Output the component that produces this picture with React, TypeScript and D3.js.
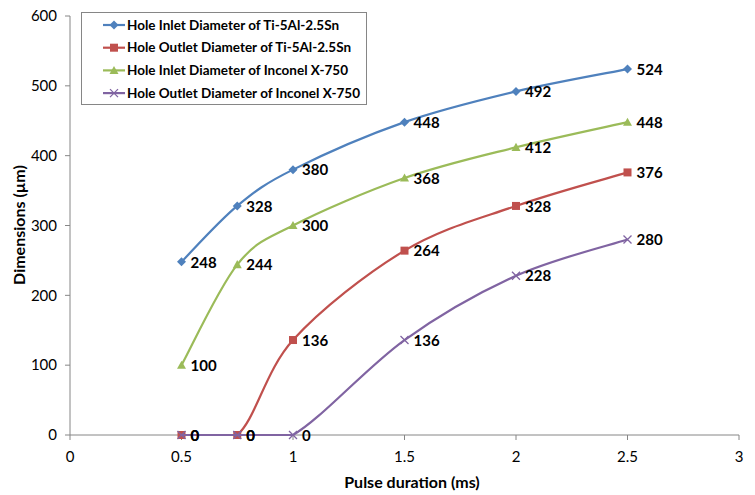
import React from "react";
import * as d3 from "d3";

const xValues = [0.5, 0.75, 1, 1.5, 2, 2.5];
const inletTi = [248, 328, 380, 448, 492, 524];
const outletTi = [0, 0, 136, 264, 328, 376];
const inletInc = [100, 244, 300, 368, 412, 448];
const outletInc = [0, 0, 0, 136, 228, 280];
const seriesNames = [
  "Hole Inlet Diameter of Ti-5Al-2.5Sn",
  "Hole Outlet Diameter of Ti-5Al-2.5Sn",
  "Hole Inlet Diameter of Inconel X-750",
  "Hole Outlet Diameter of Inconel X-750",
];
const xTicks = [0, 0.5, 1, 1.5, 2, 2.5, 3];
const yTicks = [0, 100, 200, 300, 400, 500, 600];

const W = 755, H = 495;
const left = 70, right = 739, top = 16, bottom = 435;
const FONT = "Lato, 'Open Sans', sans-serif";

const colors = ["#4F81BD", "#C0504D", "#9BBB59", "#8064A2"];
const markers = ["diamond", "square", "triangle", "x"];

function Marker({ type, x, y, color }: { type: string; x: number; y: number; color: string }) {
  if (type === "diamond") {
    const s = 4.5;
    return <path d={`M${x},${y - s}L${x + s},${y}L${x},${y + s}L${x - s},${y}Z`} fill={color} />;
  }
  if (type === "square") {
    const s = 4;
    return <rect x={x - s} y={y - s} width={2 * s} height={2 * s} fill={color} />;
  }
  if (type === "triangle") {
    const s = 4.5;
    return <path d={`M${x},${y - s}L${x + s},${y + s * 0.8}L${x - s},${y + s * 0.8}Z`} fill={color} />;
  }
  const s = 4;
  return (
    <path d={`M${x - s},${y - s}L${x + s},${y + s}M${x - s},${y + s}L${x + s},${y - s}`} stroke={color} strokeWidth={1.3} fill="none" />
  );
}

// Smoothed line (Catmull-Rom style Bezier) with control points clamped to each segment's value range
function smoothPath(xsV: number[], ysV: number[], xs: d3.ScaleLinear<number, number>, ys: d3.ScaleLinear<number, number>) {
  const p = d3.path();
  const n = xsV.length;
  p.moveTo(xs(xsV[0]), ys(ysV[0]));
  for (let i = 0; i < n - 1; i++) {
    const i0 = Math.max(0, i - 1), i3 = Math.min(n - 1, i + 2);
    const x1 = xsV[i], y1 = ysV[i], x2 = xsV[i + 1], y2 = ysV[i + 1];
    let c1x = x1 + (x2 - xsV[i0]) / 6;
    let c1y = y1 + (y2 - ysV[i0]) / 6;
    let c2x = x2 - (xsV[i3] - x1) / 6;
    let c2y = y2 - (ysV[i3] - y1) / 6;
    const lo = Math.min(y1, y2), hi = Math.max(y1, y2);
    c1y = Math.max(lo, Math.min(hi, c1y));
    c2y = Math.max(lo, Math.min(hi, c2y));
    c1x = Math.max(x1, Math.min(x2, c1x));
    c2x = Math.max(x1, Math.min(x2, c2x));
    p.bezierCurveTo(xs(c1x), ys(c1y), xs(c2x), ys(c2y), xs(x2), ys(y2));
  }
  return p.toString();
}

export default function App() {
  const xs = d3.scaleLinear().domain([0, 3]).range([left, right]);
  const ys = d3.scaleLinear().domain([0, 600]).range([bottom, top]);
  const allSeries = [inletTi, outletTi, inletInc, outletInc];

  return (
    <svg width={W} height={H} style={{ position: "absolute", left: 0, top: 0, background: "#fff" }}>
      <line x1={left} x2={left} y1={top} y2={bottom} stroke="#868686" strokeWidth={1} />
      <line x1={left} x2={right} y1={bottom} y2={bottom} stroke="#868686" strokeWidth={1} />
      {yTicks.map((t) => (
        <g key={"y" + t}>
          <line x1={left - 5} x2={left} y1={ys(t)} y2={ys(t)} stroke="#868686" />
          <text x={57} y={ys(t)} dy="0.35em" textAnchor="end" fontFamily={FONT} fontSize={15} fill="#000">
            {t}
          </text>
        </g>
      ))}
      {xTicks.map((t) => (
        <g key={"x" + t}>
          <line x1={xs(t)} x2={xs(t)} y1={bottom} y2={bottom + 5} stroke="#868686" />
          <text x={xs(t)} y={457} dy="0.35em" textAnchor="middle" fontFamily={FONT} fontSize={15} fill="#000">
            {t}
          </text>
        </g>
      ))}
      <text x={412} y={482} dy="0.35em" textAnchor="middle" fontFamily={FONT} fontSize={16} fontWeight="bold">
        Pulse duration (ms)
      </text>
      <text
        transform={`translate(19,225) rotate(-90)`}
        dy="0.35em"
        textAnchor="middle"
        fontFamily={FONT}
        fontSize={16}
        fontWeight="bold"
      >
        Dimensions (µm)
      </text>

      {allSeries.map((s, si) => (
        <g key={"s" + si}>
          <path d={smoothPath(xValues, s, xs, ys)} fill="none" stroke={colors[si]} strokeWidth={2.2} />
          {s.map((v, i) => (
            <Marker key={i} type={markers[si]} x={xs(xValues[i])} y={ys(v)} color={colors[si]} />
          ))}
        </g>
      ))}
      {allSeries.map((s, si) =>
        s.map((v, i) => (
          <text
            key={"l" + si + "-" + i}
            x={xs(xValues[i]) + 9}
            y={ys(v)}
            dy="0.38em"
            fontFamily={FONT}
            fontSize={15}
            fontWeight="bold"
            fill="#000"
          >
            {v}
          </text>
        ))
      )}

      <rect x={81.5} y={12.5} width={285} height={92} fill="#fff" stroke="#868686" />
      {seriesNames.map((n, i) => {
        const cy = 25 + i * 22.7;
        return (
          <g key={"lg" + i}>
            <line x1={103} x2={125} y1={cy} y2={cy} stroke={colors[i]} strokeWidth={2.2} />
            <Marker type={markers[i]} x={114} y={cy} color={colors[i]} />
            <text x={127} y={cy} dy="0.35em" fontFamily={FONT} fontSize={13.5} fontWeight="bold">
              {n}
            </text>
          </g>
        );
      })}
    </svg>
  );
}
